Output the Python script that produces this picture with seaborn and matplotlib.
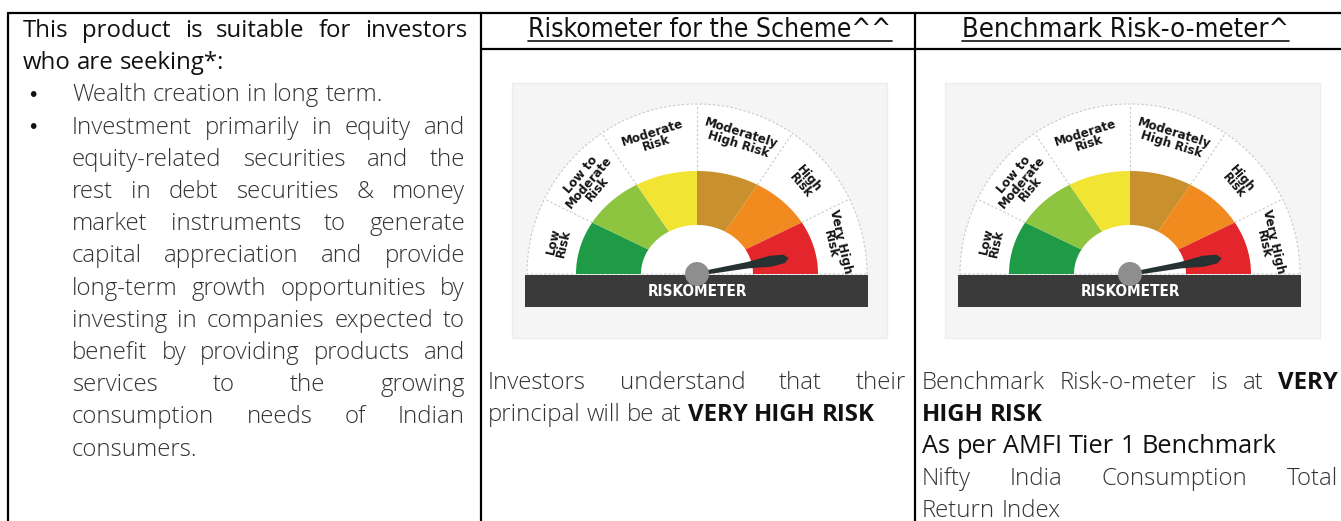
import numpy as np
import matplotlib
matplotlib.use("Agg")
import matplotlib.pyplot as plt
from matplotlib.patches import Polygon, Rectangle, Circle
import seaborn as sns

# ---------------- data ----------------
risk_levels = ["Low Risk", "Low to Moderate Risk", "Moderate Risk",
               "Moderately High Risk", "High Risk", "Very High Risk"]
gauge_labels = ["Low\nRisk", "Low to\nModerate\nRisk", "Moderate\nRisk",
                "Moderately\nHigh Risk", "High\nRisk", "Very High\nRisk"]
risk_colors = ["#1f9a46", "#8dc440", "#f2e433", "#c8912d", "#f28b1f", "#e2262b"]
scheme_level = "Very High Risk"
benchmark_level = "Very High Risk"

header_scheme = "Riskometer for the Scheme^^"
header_bench = "Benchmark Risk-o-meter^"
title_lines = ["This product is suitable for investors", "who are seeking*:"]
bullet1_lines = ["Wealth creation in long term."]
bullet2_lines = ["Investment primarily in equity and",
                 "equity-related securities and the",
                 "rest in debt securities & money",
                 "market instruments to generate",
                 "capital appreciation and provide",
                 "long-term growth opportunities by",
                 "investing in companies expected to",
                 "benefit by providing products and",
                 "services to the growing",
                 "consumption needs of Indian",
                 "consumers."]
scheme_text = [[("Investors", 0), ("understand", 0), ("that", 0), ("their", 0)],
               [("principal", 0), ("will", 0), ("be", 0), ("at", 0),
                ("VERY", 1), ("HIGH", 1), ("RISK", 1)]]
bench_text = [[("Benchmark", 0), ("Risk-o-meter", 0), ("is", 0), ("at", 0), ("VERY", 1)],
              [("HIGH", 1), ("RISK", 1)],
              [("As", 2), ("per", 2), ("AMFI", 2), ("Tier", 2), ("1", 2), ("Benchmark", 2)],
              [("Nifty", 0), ("India", 0), ("Consumption", 0), ("Total", 0)],
              [("Return", 0), ("Index", 0)]]

# ---------------- setup ----------------
sns.set_theme(style="white")
plt.rcParams["font.family"] = ["Open Sans", "DejaVu Sans"]
W, H = 1341, 521
fig = plt.figure(figsize=(W / 100, H / 100), dpi=100)
ax = fig.add_axes([0, 0, 1, 1])
ax.set_xlim(0, W)
ax.set_ylim(H, 0)
ax.axis("off")
renderer = fig.canvas.get_renderer()

FAM = ["Open Sans", "DejaVu Sans"]
BODY = dict(family=FAM, weight="light", color="#333333")
BOLDW = dict(family=FAM, weight="bold", color="#111111")
MEDW = dict(family=FAM, weight="normal", color="#111111")
styles = {0: BODY, 1: BOLDW, 2: MEDW}
FS = 17.3
COND = dict(family=["DejaVu Sans"], stretch="condensed")


def width_of(s, size, st):
    t = ax.text(0, 0, s, fontsize=size, **st)
    w = t.get_window_extent(renderer).width
    t.remove()
    return w


def draw_words(words, x0, x1, y, size, justify):
    ws = [width_of(w, size, styles[k]) for w, k in words]
    sp = width_of("a a", size, BODY) - width_of("aa", size, BODY)
    if justify and len(words) > 1:
        gap = (x1 - x0 - sum(ws)) / (len(words) - 1)
    else:
        gap = sp
    x = x0
    for (w, k), wd in zip(words, ws):
        ax.text(x, y, w, fontsize=size, ha="left", va="baseline", **styles[k])
        x += wd + gap


def draw_plain(line, x0, x1, y, size, justify, k=0):
    draw_words([(w, k) for w in line.split()], x0, x1, y, size, justify)


# ---------------- table borders ----------------
lw = 1.6
ax.plot([8, W], [13, 13], color="black", lw=lw)
ax.plot([481, W], [49, 49], color="black", lw=lw)
for xv in [8, 481, 915]:
    ax.plot([xv, xv], [13, H], color="black", lw=lw)

# ---------------- left column ----------------
lh = 32.2
y = 37
draw_words([(w, 2) for w in title_lines[0].split()], 23, 467, y, FS, True)
y += lh
draw_words([(w, 2) for w in title_lines[1].split()], 23, 467, y, FS, False)
for block in [bullet1_lines, bullet2_lines]:
    y += lh
    ax.text(27, y - 6, "\u2022", fontsize=14, ha="left", va="center", color="#111111",
            family="DejaVu Sans")
    for i, line in enumerate(block):
        if i > 0:
            y += lh
        draw_plain(line, 72, 465, y, FS, i < len(block) - 1)

# ---------------- headers ----------------
HFS = 19
for txt, cx, fs in [(header_scheme, 710, HFS), (header_bench, 1126, HFS + 0.6)]:
    t = ax.text(cx, 37, txt, fontsize=fs, ha="center", va="baseline", color="#111111",
                **COND)
    bb = t.get_window_extent(renderer)
    ax.plot([cx - bb.width / 2, cx + bb.width / 2], [41, 41], color="#111111", lw=1.2)


# ---------------- gauges ----------------
def gauge(cx, cy, level):
    ax.add_patch(Rectangle((cx - 185, 83), 375, 255, facecolor="#f5f5f5",
                           edgecolor="#ededed", lw=1, zorder=1))
    R = 170
    th = np.linspace(0, np.pi, 200)
    ax.add_patch(Polygon(np.c_[cx + R * np.cos(th), cy - R * np.sin(th)],
                         closed=True, facecolor="white", edgecolor="#c8c8c8",
                         lw=0.8, ls=(0, (2, 2)), zorder=2))
    rxo, ryo, rxi, ryi = 121, 103, 56, 49
    n = len(risk_levels)
    seg = np.pi / n
    for i in range(n):
        a0 = np.pi - i * seg
        t = np.linspace(a0, a0 - seg, 40)
        pts = np.r_[np.c_[cx + rxo * np.cos(t), cy - ryo * np.sin(t)],
                    np.c_[cx + rxi * np.cos(t[::-1]), cy - ryi * np.sin(t[::-1])]]
        ax.add_patch(Polygon(pts, closed=True, facecolor=risk_colors[i],
                             edgecolor="none", zorder=3))
        if i > 0:
            ex, ey = rxo * np.cos(a0), ryo * np.sin(a0)
            ang = np.arctan2(ey, ex)
            ax.plot([cx + ex, cx + R * np.cos(ang)], [cy - ey, cy - R * np.sin(ang)],
                    color="#c8c8c8", lw=0.8, ls=(0, (2, 2)), zorder=3)
        am = a0 - seg / 2
        ang = np.degrees(np.arctan2(ryo * np.sin(am), rxo * np.cos(am)))
        rl = 142
        lx = cx + rl * np.cos(np.radians(ang))
        ly = cy - rl * np.sin(np.radians(ang))
        ax.text(lx, ly, gauge_labels[i], rotation=ang - 90, ha="center", va="center",
                rotation_mode="anchor", fontsize=9.5, weight="bold", linespacing=0.82,
                color="#151515", zorder=4, **COND)
    ax.add_patch(Rectangle((cx - 172, cy + 1), 343, 32, facecolor="#3a3a3a",
                           edgecolor="none", zorder=4))
    ax.text(cx, cy + 18, "RISKOMETER", ha="center", va="center", color="white",
            fontsize=11, weight="bold", zorder=5, **COND)
    k = risk_levels.index(level)
    am = np.pi - (k + 0.5) * seg
    ang = np.arctan2(ryo * np.sin(am), rxo * np.cos(am)) - np.radians(3)
    L = 93
    ux, uy = np.cos(ang), -np.sin(ang)
    px, py = -uy, ux
    prof = [(0, 1.8), (0.55, 3.2), (0.8, 5.5), (0.95, 4.3), (1.0, 0)]
    up = [(cx + ux * L * s + px * w, cy + uy * L * s + py * w) for s, w in prof]
    dn = [(cx + ux * L * s - px * w, cy + uy * L * s - py * w) for s, w in prof[::-1]]
    ax.add_patch(Polygon(up + dn, closed=True, facecolor="#263232", edgecolor="none",
                         zorder=6))
    ax.add_patch(Circle((cx, cy), 12, facecolor="#8e8e8e", edgecolor="none", zorder=7))


gauge(697, 274, scheme_level)
gauge(1130, 274, benchmark_level)

# ---------------- column texts ----------------
for words_lines, x0, x1, just in [(scheme_text, 488, 906, [True, False]),
                                  (bench_text, 922, 1338, [True, False, False, True, False])]:
    yy = 389
    for line, j in zip(words_lines, just):
        size = FS + 1.0 if all(k == 2 for _, k in line) else FS
        draw_words(line, x0, x1, yy, size, j)
        yy += 32

fig.savefig("out.png", dpi=100)
